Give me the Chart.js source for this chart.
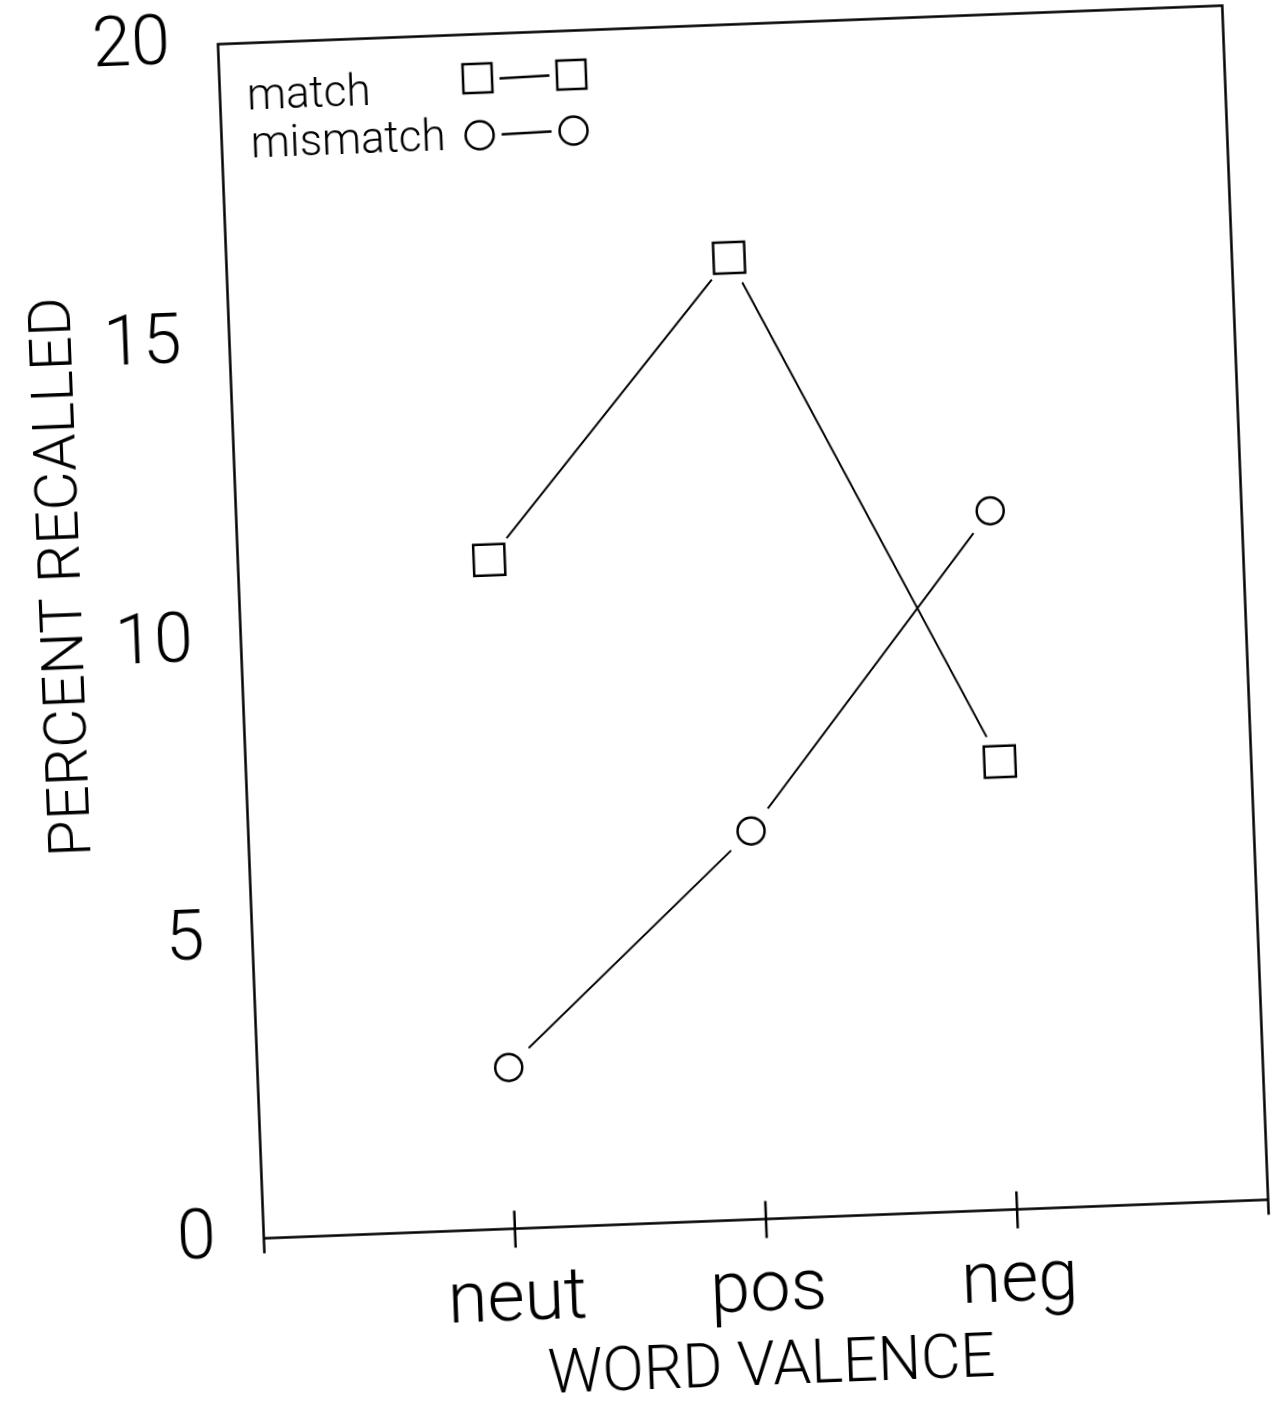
<!DOCTYPE html>
<html lang="en">
<head>
    <meta charset="UTF-8">
    <title>Percent Recalled by Word Valence</title>
    <script src="https://cdn.jsdelivr.net/npm/chart.js"></script>
    <style>
        html, body {
            margin: 0;
            padding: 0;
            background: #fff;
            overflow: hidden;
            width: 1279px;
            height: 1402px;
        }
        /* the scanned figure sits slightly tilted; canvas is oversized so
           the rotated corners do not clip the labels */
        #wrap {
            width: 1379px;
            height: 1502px;
            margin: -50px 0 0 -50px;
            transform: rotate(-2.2deg);
            transform-origin: 50% 50%;
        }
    </style>
</head>
<body>
    <div id="wrap">
        <canvas id="chart" width="1379" height="1502"></canvas>
    </div>

    <script>
        // data
        var valenceLabels = ['neut', 'pos', 'neg'];
        var valencePos = [1, 2, 3];
        var matchValues = [11.2, 16.1, 7.5];
        var mismatchValues = [2.7, 6.5, 11.7];
        var yTicks = [0, 5, 10, 15, 20];
        var seriesNames = ['match', 'mismatch'];

        var FONT = 'Roboto, "DejaVu Sans", sans-serif';
        var OFF = 50; // canvas overhang on each side

        function points(values) {
            var out = [];
            for (var i = 0; i < values.length; i++) {
                out.push({ x: valencePos[i], y: values[i] });
            }
            return out;
        }

        // frame, crossing ticks, titles and legend
        var framePlugin = {
            id: 'frame',
            afterDraw: function (chart) {
                var ctx = chart.ctx;
                var a = chart.chartArea;
                var xs = chart.scales.x;
                ctx.save();
                ctx.strokeStyle = '#000';
                ctx.lineWidth = 2.5;
                ctx.beginPath();
                ctx.moveTo(a.left, a.bottom + 15);
                ctx.lineTo(a.left, a.top);
                ctx.lineTo(a.right, a.top);
                ctx.lineTo(a.right, a.bottom + 15);
                ctx.moveTo(a.left, a.bottom);
                ctx.lineTo(a.right, a.bottom);
                for (var i = 0; i < valencePos.length; i++) {
                    var px = xs.getPixelForValue(valencePos[i]);
                    ctx.moveTo(px, a.bottom - 18);
                    ctx.lineTo(px, a.bottom + 19);
                }
                ctx.stroke();

                ctx.fillStyle = '#000';
                ctx.textAlign = 'center';
                ctx.textBaseline = 'middle';
                ctx.font = '300 61px ' + FONT;
                ctx.fillText('WORD VALENCE', (a.left + a.right) / 2, a.bottom + 150);

                ctx.save();
                ctx.translate(OFF + 70, OFF + 555);
                ctx.rotate(-Math.PI / 2);
                ctx.font = '300 60px ' + FONT;
                ctx.fillText('PERCENT RECALLED', 0, 0);
                ctx.restore();

                // legend
                ctx.textAlign = 'left';
                ctx.font = '300 44px ' + FONT;
                ctx.fillText(seriesNames[0], a.left + 27, a.top + 55);
                ctx.fillText(seriesNames[1], a.left + 29, a.top + 103);

                ctx.lineWidth = 2.5;
                var m1 = a.left + 258, m2 = a.left + 352;
                var yS = a.top + 44, yC = a.top + 101;
                ctx.beginPath();
                ctx.rect(m1 - 14.5, yS - 14.5, 29, 29);
                ctx.rect(m2 - 14.5, yS - 14.5, 29, 29);
                ctx.moveTo(m1 + 22, yS + 1);
                ctx.lineTo(m2 - 22, yS);
                ctx.stroke();
                ctx.beginPath();
                ctx.arc(m1, yC, 14, 0, Math.PI * 2);
                ctx.moveTo(m2 + 14, yC - 1);
                ctx.arc(m2, yC - 1, 14, 0, Math.PI * 2);
                ctx.moveTo(m1 + 22, yC);
                ctx.lineTo(m2 - 22, yC - 1);
                ctx.stroke();
                ctx.restore();
            }
        };

        var lineStyle = {
            showLine: true,
            borderColor: '#000',
            borderWidth: 2,
            pointRadius: 0,
            fill: false,
            order: 3
        };

        var haloStyle = {
            showLine: false,
            pointRadius: 28,
            pointStyle: 'circle',
            pointBackgroundColor: '#fff',
            pointBorderWidth: 0,
            order: 2
        };

        var ctx = document.getElementById('chart').getContext('2d');
        var myChart = new Chart(ctx, {
            type: 'scatter',
            data: {
                datasets: [
                    Object.assign({ label: 'match line', data: points(matchValues) }, lineStyle),
                    Object.assign({ label: 'mismatch line', data: points(mismatchValues) }, lineStyle),
                    Object.assign({ label: 'match halo', data: points(matchValues) }, haloStyle),
                    Object.assign({ label: 'mismatch halo', data: points(mismatchValues) }, haloStyle),
                    {
                        label: seriesNames[0],
                        data: points(matchValues),
                        showLine: false,
                        pointStyle: 'rect',
                        pointRadius: 22,
                        pointBackgroundColor: '#fff',
                        pointBorderColor: '#000',
                        pointBorderWidth: 2.5,
                        order: 1
                    },
                    {
                        label: seriesNames[1],
                        data: points(mismatchValues),
                        showLine: false,
                        pointStyle: 'circle',
                        pointRadius: 13.5,
                        pointBackgroundColor: '#fff',
                        pointBorderColor: '#000',
                        pointBorderWidth: 2.5,
                        order: 1
                    }
                ]
            },
            options: {
                responsive: false,
                animation: false,
                devicePixelRatio: 1,
                layout: {
                    padding: { top: OFF + 28.5, right: OFF + 30.5, left: OFF, bottom: OFF }
                },
                plugins: {
                    legend: { display: false },
                    tooltip: { enabled: false }
                },
                scales: {
                    x: {
                        type: 'linear',
                        min: 0,
                        max: 4,
                        grid: { display: false },
                        border: { display: false },
                        afterFit: function (s) {
                            s.height = 178.5;
                            s.paddingLeft = 0;
                            s.paddingRight = 0;
                        },
                        afterBuildTicks: function (s) {
                            s.ticks = valencePos.map(function (v) { return { value: v }; });
                        },
                        ticks: {
                            autoSkip: false,
                            maxRotation: 0,
                            padding: 22,
                            color: '#000',
                            font: { family: FONT, size: 72, weight: '300' },
                            callback: function (v) { return valenceLabels[valencePos.indexOf(v)] || ''; }
                        }
                    },
                    y: {
                        min: 0,
                        max: 20,
                        grid: { display: false },
                        border: { display: false },
                        afterFit: function (s) {
                            s.width = 243.5;
                            s.paddingTop = 0;
                            s.paddingBottom = 0;
                        },
                        afterBuildTicks: function (s) {
                            s.ticks = yTicks.map(function (v) { return { value: v }; });
                        },
                        ticks: {
                            padding: 40,
                            color: '#000',
                            font: { family: FONT, size: 70, weight: '300' }
                        }
                    }
                }
            },
            plugins: [framePlugin]
        });
    </script>
</body>
</html>
